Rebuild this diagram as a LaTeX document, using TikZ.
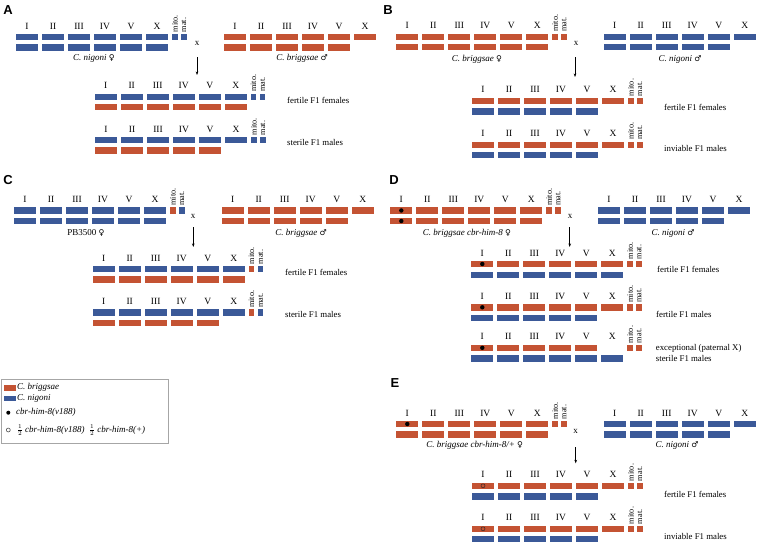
\documentclass[tikz,border=0pt]{standalone}
\usepackage{fontspec}
\setmainfont{Liberation Serif}
\setsansfont{Liberation Sans}
\newfontfamily\symfont{DejaVu Sans}
\newcommand\fem{{\upshape\symfont\fontsize{8}{9}\selectfont ♀}}
\newcommand\mal{{\upshape\symfont\fontsize{8}{9}\selectfont ♂}}
\usetikzlibrary{arrows.meta}
\definecolor{redc}{RGB}{196,83,51}
\definecolor{bluec}{RGB}{59,89,152}
\tikzset{
 numlab/.style={font=\fontsize{9.5}{11}\selectfont, inner sep=0pt},
 smalllab/.style={font=\fontsize{8.2}{9}\selectfont, inner sep=0pt, rotate=90, anchor=west},
 sexlab/.style={font=\fontsize{9}{10}\selectfont\itshape, inner sep=0pt},
 desc/.style={font=\fontsize{8.8}{10}\selectfont, inner sep=0pt, anchor=west},
 legtext/.style={font=\fontsize{9}{10}\selectfont\itshape, inner sep=0pt, anchor=west},
 panel/.style={font=\sffamily\bfseries\fontsize{13}{15}\selectfont, inner sep=0pt},
 crossx/.style={font=\fontsize{9}{10}\selectfont, inner sep=0pt},
 cross/.style={-{Stealth[length=3.5pt,width=2.6pt]}, line width=0.6pt},
 fulldot/.style={fill=black},
 opendot/.style={draw=black!85, line width=0.45pt},
}
\newcommand\chrbars[4]{%
 \foreach \k in {1,...,#4} \fill[#3] ({#1+(\k-1)*26},{#2-3.2}) rectangle ++(22,6.4);}
\newcommand\chrlabels[3]{%
 \foreach \lab [count=\k] in {I,II,III,IV,V,X} \node[numlab] (#1-\k) at ({#2+11+(\k-1)*26},{#3-11}) {\lab};}
\newcommand\chrextra[5]{%
 \fill[#4] ({#2+156},{#3-3.2}) rectangle ++(5.7,6.4);
 \fill[#5] ({#2+165},{#3-3.2}) rectangle ++(5.7,6.4);
 \node[smalllab] (#1-mito) at ({#2+158.85},{#3-4.6}) {mito.};
 \node[smalllab] (#1-mat) at ({#2+167.85},{#3-4.6}) {mat.};}
\begin{document}
\begin{tikzpicture}[x=1pt,y=-1pt]
\useasboundingbox[fill=white] (0,0) rectangle (757,544);
% ---------------- Panel A
\node[panel] (pA) at (8,10) {A};
\chrlabels{Ap}{16}{37}
\chrbars{16}{37}{bluec}{6}
\chrextra{Ap}{16}{37}{bluec}{bluec}
\chrbars{16}{47.5}{bluec}{6}
\node[sexlab] (Apl) at (94,58) {C. nigoni \fem};
\chrlabels{Am}{224}{37}
\chrbars{224}{37}{redc}{6}
\chrbars{224}{47.5}{redc}{5}
\node[sexlab] (Aml) at (302,58) {C. briggsae \mal};
\node[crossx] (Ax) at (197,43) {x};
\coordinate (Aa1) at (197,57); \coordinate (Aa2) at (197,75);
\draw[cross] (Aa1) -- (Aa2);
\chrlabels{Af}{94.7}{96.7}
\chrbars{94.7}{96.7}{bluec}{6}
\chrextra{Af}{94.7}{96.7}{bluec}{bluec}
\chrbars{94.7}{107.2}{redc}{6}
\node[desc] (Aft) at (287,100) {fertile F1 females};
\chrlabels{As}{95}{140}
\chrbars{95}{140}{bluec}{6}
\chrextra{As}{95}{140}{bluec}{bluec}
\chrbars{95}{150.5}{redc}{5}
\node[desc] (Ast) at (287,142.5) {sterile F1 males};
% ---------------- Panel B
\node[panel] (pB) at (388,10) {B};
\chrlabels{Bp}{396.3}{36.7}
\chrbars{396.3}{36.7}{redc}{6}
\chrextra{Bp}{396.3}{36.7}{redc}{redc}
\chrbars{396.3}{47.2}{redc}{6}
\node[sexlab] (Bpl) at (477,59) {C. briggsae \fem};
\chrlabels{Bm}{603.7}{36.7}
\chrbars{603.7}{36.7}{bluec}{6}
\chrbars{603.7}{47.2}{bluec}{5}
\node[sexlab] (Bml) at (680,59) {C. nigoni \mal};
\node[crossx] (Bx) at (576,43) {x};
\coordinate (Ba1) at (575,57); \coordinate (Ba2) at (575,77);
\draw[cross] (Ba1) -- (Ba2);
\chrlabels{Bf}{472}{100.8}
\chrbars{472}{100.8}{redc}{6}
\chrextra{Bf}{472}{100.8}{redc}{redc}
\chrbars{472}{111.3}{bluec}{5}
\node[desc] (Bft) at (664,107) {fertile F1 females};
\chrlabels{Bs}{472}{144.7}
\chrbars{472}{144.7}{redc}{6}
\chrextra{Bs}{472}{144.7}{redc}{redc}
\chrbars{472}{155.2}{bluec}{5}
\node[desc] (Bst) at (664,148.5) {inviable F1 males};
% ---------------- Panel C
\node[panel] (pC) at (8,180) {C};
\chrlabels{Cp}{14}{210.3}
\chrbars{14}{210.3}{bluec}{6}
\chrextra{Cp}{14}{210.3}{redc}{bluec}
\chrbars{14}{220.8}{bluec}{6}
\node[sexlab,font=\fontsize{9}{10}\selectfont] (Cpl) at (86,233) {PB3500 \fem};
\chrlabels{Cm}{221.7}{210.3}
\chrbars{221.7}{210.3}{redc}{6}
\chrbars{221.7}{220.8}{redc}{5}
\node[sexlab] (Cml) at (301,233) {C. briggsae \mal};
\node[crossx] (Cx) at (193,216.7) {x};
\coordinate (Ca1) at (193.3,227); \coordinate (Ca2) at (193.3,247);
\draw[cross] (Ca1) -- (Ca2);
\chrlabels{Cf}{92.7}{269}
\chrbars{92.7}{269}{bluec}{6}
\chrextra{Cf}{92.7}{269}{redc}{bluec}
\chrbars{92.7}{279.5}{redc}{6}
\node[desc] (Cft) at (285,272) {fertile F1 females};
\chrlabels{Cs}{92.7}{312.5}
\chrbars{92.7}{312.5}{bluec}{6}
\chrextra{Cs}{92.7}{312.5}{redc}{bluec}
\chrbars{92.7}{323}{redc}{5}
\node[desc] (Cst) at (285,314.5) {sterile F1 males};
% ---------------- Panel D
\node[panel] (pD) at (394,180) {D};
\chrlabels{Dp}{390.3}{210.5}
\chrbars{390.3}{210.5}{redc}{6}
\chrextra{Dp}{390.3}{210.5}{redc}{redc}
\chrbars{390.3}{221}{redc}{6}
\fill[fulldot] (401.3,210.5) circle (2.2pt);
\fill[fulldot] (401.3,221) circle (2.2pt);
\node[sexlab] (Dpl) at (467,233) {C. briggsae cbr-him-8 \fem};
\chrlabels{Dm}{598}{210.5}
\chrbars{598}{210.5}{bluec}{6}
\chrbars{598}{221}{bluec}{5}
\node[sexlab] (Dml) at (673,233) {C. nigoni \mal};
\node[crossx] (Dx) at (570,216.7) {x};
\coordinate (Da1) at (569.7,227); \coordinate (Da2) at (569.7,247);
\draw[cross] (Da1) -- (Da2);
\chrlabels{Df}{471.3}{264}
\chrbars{471.3}{264}{redc}{6}
\chrextra{Df}{471.3}{264}{redc}{redc}
\chrbars{471.3}{274.8}{bluec}{6}
\fill[fulldot] (482.3,264) circle (2.2pt);
\node[desc] (Dft) at (657,269.5) {fertile F1 females};
\chrlabels{Dm2}{471.3}{307.3}
\chrbars{471.3}{307.3}{redc}{6}
\chrextra{Dm2}{471.3}{307.3}{redc}{redc}
\chrbars{471.3}{318}{bluec}{5}
\fill[fulldot] (482.3,307.3) circle (2.2pt);
\node[desc] (Dmt) at (656,314.5) {fertile F1 males};
\chrlabels{De}{471.3}{347.8}
\chrbars{471.3}{347.8}{redc}{5}
\chrextra{De}{471.3}{347.8}{redc}{redc}
\chrbars{471.3}{358.5}{bluec}{6}
\fill[fulldot] (482.3,347.8) circle (2.2pt);
\node[desc] (Det1) at (655.7,348.3) {exceptional (paternal X)};
\node[desc] (Det2) at (655.7,358.3) {sterile F1 males};
% ---------------- Panel E
\node[panel] (pE) at (395,383.3) {E};
\chrlabels{Ep}{396.3}{424}
\chrbars{396.3}{424}{redc}{6}
\chrextra{Ep}{396.3}{424}{redc}{redc}
\chrbars{396.3}{434.5}{redc}{6}
\fill[fulldot] (407.3,424) circle (2.2pt);
\node[sexlab] (Epl) at (474.7,445) {C. briggsae cbr-him-8/+ \fem};
\chrlabels{Em}{603.7}{424}
\chrbars{603.7}{424}{bluec}{6}
\chrbars{603.7}{434.5}{bluec}{5}
\node[sexlab] (Eml) at (677,445) {C. nigoni \mal};
\node[crossx] (Ex) at (575.7,431) {x};
\coordinate (Ea1) at (575.7,447); \coordinate (Ea2) at (575.7,463.3);
\draw[cross] (Ea1) -- (Ea2);
\chrlabels{Ef}{472}{485.8}
\chrbars{472}{485.8}{redc}{6}
\chrextra{Ef}{472}{485.8}{redc}{redc}
\chrbars{472}{496.3}{bluec}{5}
\draw[opendot] (483,485.8) circle (2pt);
\node[desc] (Eft) at (664,494) {fertile F1 females};
\chrlabels{Es}{472}{528.8}
\chrbars{472}{528.8}{redc}{6}
\chrextra{Es}{472}{528.8}{redc}{redc}
\chrbars{472}{539}{bluec}{5}
\draw[opendot] (483,528.8) circle (2pt);
\node[desc] (Est) at (664,536.7) {inviable F1 males};
% ---------------- Legend
\draw[black!35, line width=0.6pt] (1.7,379.3) rectangle (168.3,443.3);
\fill[redc] (4.3,385) rectangle (15.7,390.7);
\node[legtext] (lgb) at (16.8,387.8) {C. briggsae};
\fill[bluec] (4.3,395.7) rectangle (15.7,401.3);
\node[legtext] (lgn) at (16.8,398.5) {C. nigoni};
\fill[fulldot] (8.3,412.7) circle (2pt);
\node[legtext] (lgd) at (16,412.7) {cbr-him-8(v188)};
\draw[opendot, fill=white] (8.3,430) circle (2pt);
\node[legtext] (lgo) at (16.7,430) {$\frac12$ cbr-him-8(v188)\enspace $\frac12$ cbr-him-8(+)};
\end{tikzpicture}
\end{document}
